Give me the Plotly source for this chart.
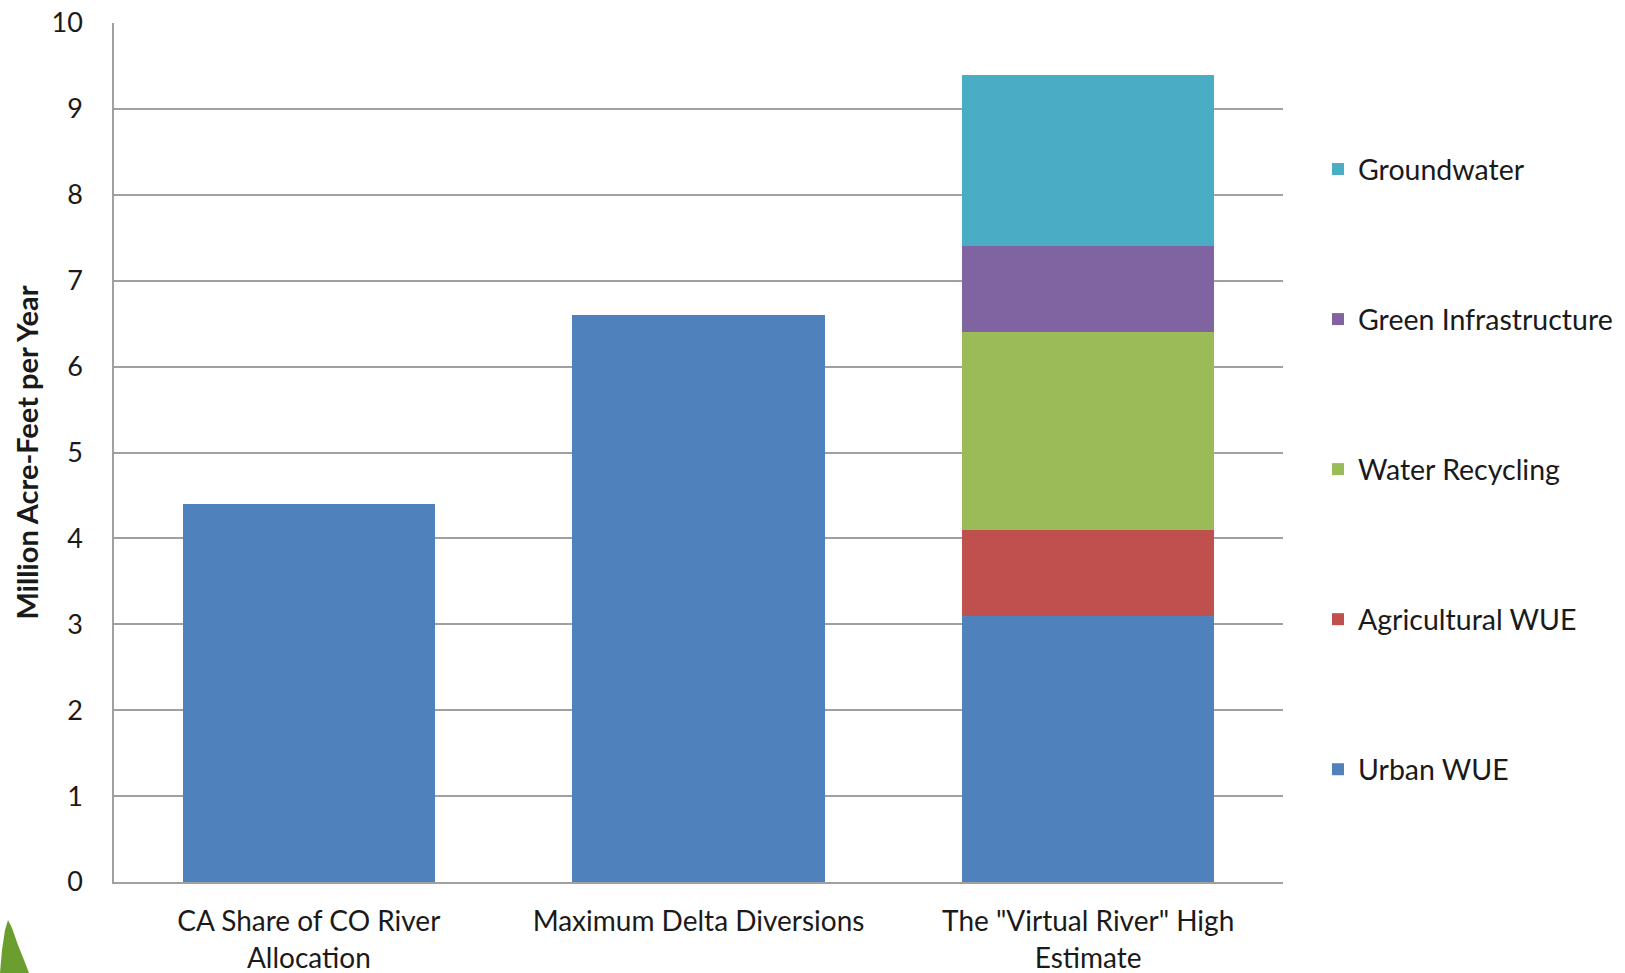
import plotly.graph_objects as go

categories = ["CA Share of CO River<br>Allocation", "Maximum Delta Diversions", "The \"Virtual River\" High<br>Estimate"]
series_names = ["Urban WUE", "Agricultural WUE", "Water Recycling", "Green Infrastructure", "Groundwater"]
urban_wue = [4.4, 6.6, 3.1]
agricultural_wue = [None, None, 1.0]
water_recycling = [None, None, 2.3]
green_infrastructure = [None, None, 1.0]
groundwater = [None, None, 2.0]
series_values = [urban_wue, agricultural_wue, water_recycling, green_infrastructure, groundwater]
colors = ["#4f81bd", "#c0504d", "#9bbb59", "#8064a2", "#4bacc6"]
y_ticks = list(range(0, 11))

W, H = 1625, 973
L, R, T, B = 114, 1283, 23, 882

FONT = "Lato, Carlito, Calibri, sans-serif"

fig = go.Figure()
n = len(series_names)
for i, (name, vals, col) in enumerate(zip(series_names, series_values, colors)):
    fig.add_trace(go.Bar(
        x=categories, y=vals, name=name, marker=dict(color=col, line=dict(width=0)),
        legendgroup=name, legendrank=n - i,
    ))

def px_to_paper(px, py):
    return (px - L) / (R - L), (B - py) / (B - T)

# decorative leaf fragment at bottom-left
pts = [(0, 973), (2, 950), (5, 930), (8, 920), (12, 928), (18, 945), (24, 960), (29, 973)]
path = ""
for i, (px, py) in enumerate(pts):
    xp, yp = px_to_paper(px, py)
    path += ("M" if i == 0 else "L") + f"{xp},{yp} "
path += "Z"
fig.add_shape(type="path", path=path, xref="paper", yref="paper",
              fillcolor="#6a9e2f", line=dict(width=0), layer="above")

fig.update_layout(
    width=W, height=H,
    barmode="stack",
    bargap=0.353,
    plot_bgcolor="white", paper_bgcolor="white",
    margin=dict(l=L, r=W - R, t=T, b=H - B, autoexpand=False),
    font=dict(family=FONT, size=28, color="#1a1a1a"),
    legend=dict(
        x=(1318 - L) / (R - L), xanchor="left",
        y=(B - 144) / (B - T), yanchor="top",
        traceorder="grouped",
        tracegroupgap=110,
        font=dict(size=28.5, family=FONT, color="#1a1a1a"),
        itemwidth=30,
        bgcolor="rgba(0,0,0,0)",
    ),
    xaxis=dict(
        showgrid=False, showline=True, linecolor="#a0a0a0", linewidth=1.5,
        ticks="", ticklabelstandoff=14,
        tickfont=dict(size=28, family=FONT, color="#1a1a1a"),
    ),
    yaxis=dict(
        range=[0, 10], tickvals=y_ticks, showgrid=True, gridcolor="#a0a0a0", gridwidth=1.5,
        showline=True, linecolor="#a0a0a0", linewidth=1.5, zeroline=False,
        ticks="", ticklabelstandoff=24,
        tickfont=dict(size=27, family=FONT, color="#1a1a1a"),
        title=dict(text="<b>Million Acre-Feet per Year</b>", standoff=4,
                   font=dict(size=29, family=FONT, color="#1a1a1a")),
    ),
    showlegend=True,
)

fig.write_html("out.html")
